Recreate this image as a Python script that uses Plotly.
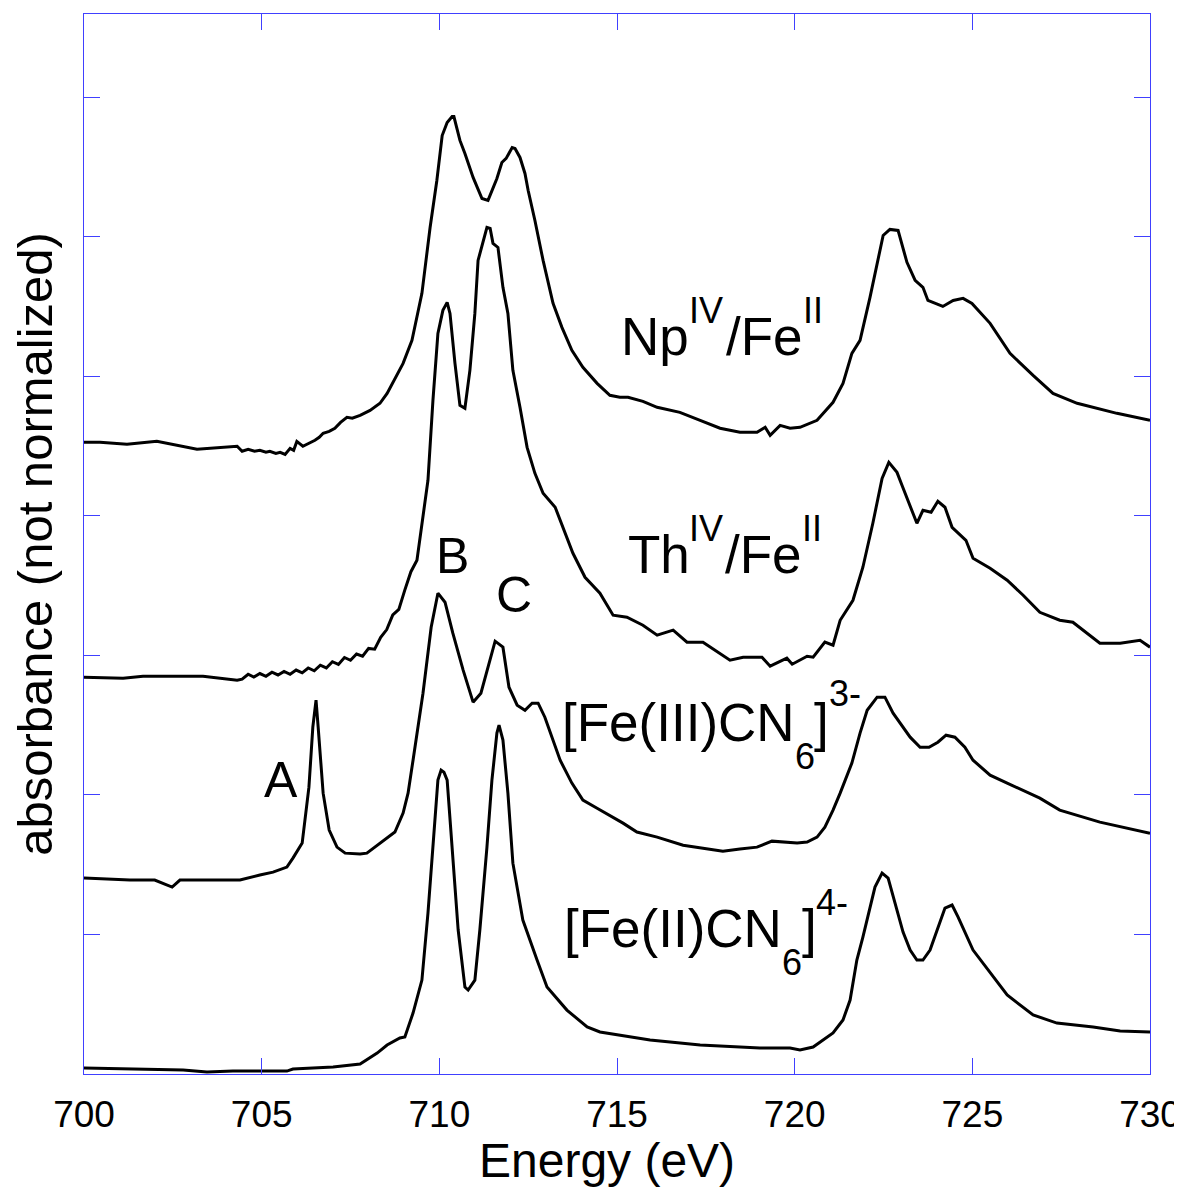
import plotly.graph_objects as go

# ---------------- data ----------------
x_ticks = [700, 705, 710, 715, 720, 725, 730]
y_ticks = [0, 1, 2, 3, 4, 5, 6, 7]

energy_np = [700.00, 700.45, 701.21, 702.05, 703.18, 704.31, 704.45, 704.62, 704.80, 704.95,
             705.12, 705.23, 705.40, 705.52, 705.66, 705.80, 705.90, 705.99, 706.16, 706.33,
             706.50, 706.62, 706.73, 706.90, 707.06, 707.22, 707.40, 707.55, 707.77, 708.05,
             708.33, 708.53, 708.81, 708.98, 709.23, 709.51, 709.74, 709.93, 710.08, 710.22,
             710.36, 710.41, 710.58, 710.72, 710.95, 711.20, 711.37, 711.62, 711.76, 711.88,
             712.05, 712.13, 712.27, 712.41, 712.50, 712.69, 712.92, 713.20, 713.45, 713.73,
             714.04, 714.44, 714.80, 715.08, 715.31, 715.73, 716.13, 716.77, 717.34, 717.90,
             718.46, 718.94, 719.17, 719.31, 719.59, 719.87, 720.15, 720.63, 721.08, 721.36,
             721.61, 721.84, 722.12, 722.32, 722.49, 722.68, 722.91, 723.16, 723.39, 723.61,
             723.75, 724.17, 724.46, 724.74, 724.99, 725.50, 726.06, 726.71, 727.27, 727.95,
             729.07, 730.00]
absorb_np = [4.527, 4.527, 4.513, 4.534, 4.477, 4.499, 4.463, 4.477, 4.463, 4.470,
             4.456, 4.463, 4.448, 4.456, 4.441, 4.484, 4.470, 4.534, 4.499, 4.520,
             4.542, 4.563, 4.592, 4.606, 4.628, 4.670, 4.706, 4.700, 4.721, 4.756,
             4.807, 4.878, 5.007, 5.093, 5.258, 5.595, 6.067, 6.404, 6.726, 6.819,
             6.862, 6.862, 6.691, 6.597, 6.426, 6.275, 6.261, 6.418, 6.533, 6.562,
             6.640, 6.633, 6.569, 6.454, 6.332, 6.117, 5.831, 5.523, 5.351, 5.186,
             5.065, 4.950, 4.864, 4.850, 4.850, 4.821, 4.778, 4.742, 4.685, 4.628,
             4.599, 4.599, 4.635, 4.577, 4.649, 4.628, 4.635, 4.685, 4.814, 4.950,
             5.165, 5.258, 5.566, 5.810, 6.010, 6.053, 6.046, 5.817, 5.688, 5.638,
             5.544, 5.501, 5.544, 5.559, 5.523, 5.380, 5.165, 5.007, 4.878, 4.807,
             4.735, 4.685]

energy_th = [700.00, 701.10, 701.66, 703.35, 704.31, 704.45, 704.62, 704.78, 704.95, 705.12,
             705.29, 705.46, 705.63, 705.80, 705.97, 706.14, 706.31, 706.48, 706.65, 706.82,
             706.99, 707.16, 707.33, 707.50, 707.67, 707.84, 708.01, 708.18, 708.35, 708.52,
             708.69, 708.86, 709.03, 709.20, 709.37, 709.68, 709.82, 709.96, 710.10, 710.22,
             710.30, 710.44, 710.58, 710.72, 710.86, 711.00, 711.09, 711.23, 711.34, 711.43,
             711.51, 711.65, 711.79, 711.93, 712.07, 712.27, 712.47, 712.69, 712.92, 713.26,
             713.54, 713.76, 714.10, 714.52, 714.89, 715.28, 715.73, 716.13, 716.58, 716.97,
             717.42, 718.18, 718.55, 719.08, 719.31, 719.78, 719.93, 720.35, 720.52, 720.85,
             721.08, 721.28, 721.64, 721.92, 722.20, 722.46, 722.65, 722.88, 723.02, 723.25,
             723.44, 723.61, 723.84, 724.03, 724.23, 724.43, 724.60, 724.82, 725.02, 725.50,
             725.98, 726.43, 726.90, 727.46, 727.83, 728.59, 729.16, 729.72, 730.00]
absorb_th = [2.844, 2.837, 2.851, 2.851, 2.822, 2.830, 2.865, 2.845, 2.870, 2.850,
             2.880, 2.860, 2.885, 2.865, 2.895, 2.875, 2.910, 2.890, 2.930, 2.910,
             2.955, 2.935, 2.985, 2.965, 3.010, 2.995, 3.050, 3.045, 3.130, 3.185,
             3.290, 3.330, 3.470, 3.600, 3.682, 4.255, 4.828, 5.308, 5.473, 5.530,
             5.451, 5.093, 4.792, 4.771, 5.043, 5.451, 5.831, 5.953, 6.067, 6.060,
             5.953, 5.924, 5.638, 5.451, 5.043, 4.778, 4.491, 4.305, 4.162, 4.062,
             3.875, 3.732, 3.560, 3.446, 3.288, 3.274, 3.216, 3.145, 3.181, 3.095,
             3.095, 2.966, 2.987, 2.987, 2.923, 2.980, 2.937, 2.994, 2.987, 3.095,
             3.073, 3.252, 3.395, 3.632, 3.947, 4.269, 4.384, 4.312, 4.219, 4.062,
             3.947, 4.040, 4.026, 4.105, 4.062, 3.918, 3.875, 3.825, 3.696, 3.625,
             3.539, 3.431, 3.309, 3.252, 3.238, 3.087, 3.087, 3.109, 3.059]

energy_fe3 = [700.00, 701.29, 701.99, 702.28, 702.48, 702.70, 703.26, 704.39, 704.95, 705.32,
              705.71, 705.88, 706.14, 706.22, 706.33, 706.44, 706.53, 706.59, 706.73, 706.90,
              707.12, 707.35, 707.77, 707.96, 708.27, 708.75, 708.98, 709.12, 709.26, 709.40,
              709.54, 709.77, 709.96, 710.16, 710.38, 710.67, 710.95, 711.17, 711.37, 711.57,
              711.79, 711.96, 712.19, 712.41, 712.61, 712.78, 712.97, 713.20, 713.40, 713.73,
              714.04, 714.44, 714.80, 715.17, 715.56, 716.13, 716.86, 717.42, 717.98, 718.46,
              718.94, 719.36, 719.67, 720.07, 720.35, 720.63, 720.85, 721.08, 721.28, 721.61,
              721.84, 722.04, 722.32, 722.54, 722.77, 723.25, 723.53, 723.78, 724.03, 724.26,
              724.51, 724.79, 725.02, 725.50, 725.98, 726.43, 726.90, 727.46, 728.59, 730.00]
absorb_fe3 = [1.404, 1.390, 1.390, 1.361, 1.340, 1.390, 1.390, 1.390, 1.426, 1.447,
              1.483, 1.547, 1.655, 1.819, 2.056, 2.486, 2.679, 2.486, 2.013, 1.748,
              1.626, 1.583, 1.576, 1.583, 1.640, 1.734, 1.870, 2.013, 2.249, 2.486,
              2.729, 3.202, 3.446, 3.381, 3.159, 2.894, 2.665, 2.729, 2.915, 3.102,
              3.059, 2.772, 2.643, 2.607, 2.658, 2.658, 2.557, 2.393, 2.249, 2.085,
              1.963, 1.905, 1.855, 1.798, 1.734, 1.698, 1.640, 1.619, 1.597, 1.612,
              1.626, 1.669, 1.662, 1.655, 1.662, 1.698, 1.769, 1.891, 2.013, 2.228,
              2.443, 2.607, 2.701, 2.701, 2.586, 2.414, 2.342, 2.342, 2.378, 2.428,
              2.414, 2.342, 2.249, 2.142, 2.085, 2.034, 1.977, 1.891, 1.805, 1.726]

energy_fe2 = [700.00, 701.10, 702.79, 703.46, 704.19, 705.71, 705.88, 707.01, 707.77, 708.25,
              708.53, 708.89, 709.03, 709.26, 709.51, 709.68, 709.82, 709.96, 710.05, 710.13,
              710.22, 710.36, 710.53, 710.72, 710.81, 711.00, 711.14, 711.34, 711.48, 711.62,
              711.68, 711.79, 711.93, 712.07, 712.35, 712.75, 713.03, 713.59, 714.16, 714.52,
              715.93, 717.34, 719.02, 719.87, 720.15, 720.52, 721.08, 721.36, 721.56, 721.75,
              721.92, 722.26, 722.46, 722.63, 722.82, 723.05, 723.25, 723.44, 723.61, 723.81,
              724.01, 724.23, 724.43, 724.60, 725.02, 725.41, 725.98, 726.71, 727.38, 728.40,
              729.16, 730.00]
absorb_fe2 = [0.043, 0.036, 0.029, 0.014, 0.021, 0.021, 0.036, 0.050, 0.072, 0.150,
              0.208, 0.258, 0.265, 0.437, 0.673, 1.153, 1.626, 2.106, 2.178, 2.163,
              2.106, 1.626, 1.032, 0.623, 0.602, 0.673, 1.032, 1.626, 2.106, 2.443,
              2.500, 2.393, 2.013, 1.511, 1.103, 0.817, 0.623, 0.458, 0.337, 0.301,
              0.244, 0.208, 0.186, 0.186, 0.172, 0.193, 0.294, 0.387, 0.530, 0.817,
              0.981, 1.340, 1.440, 1.404, 1.225, 1.017, 0.888, 0.817, 0.817, 0.888,
              1.032, 1.189, 1.211, 1.125, 0.888, 0.760, 0.566, 0.423, 0.365, 0.337,
              0.308, 0.301]

# ---------------- styling ----------------
AXIS_BLUE = "#4040ff"
FONT = "Arial, 'Liberation Sans', sans-serif"
MAIN = 53   # label font size
SMALL = 36  # super/subscript font size

fig = go.Figure()
for ex, ab in [(energy_np, absorb_np), (energy_th, absorb_th),
               (energy_fe3, absorb_fe3), (energy_fe2, absorb_fe2)]:
    fig.add_trace(go.Scatter(x=ex, y=ab, mode="lines",
                             line=dict(color="black", width=3),
                             showlegend=False, hoverinfo="skip"))

# label pieces: (text, x, y, size)
pieces = [
    ("Np", 715.11, 5.283, MAIN), ("IV", 717.04, 5.473, SMALL),
    ("/Fe", 718.07, 5.283, MAIN), ("II", 720.23, 5.473, SMALL),
    ("Th", 715.31, 3.725, MAIN), ("IV", 717.03, 3.908, SMALL),
    ("/Fe", 718.04, 3.725, MAIN), ("II", 720.21, 3.908, SMALL),
    ("[Fe(III)CN", 713.44, 2.521, MAIN), ("6", 720.01, 2.278, SMALL),
    ("]", 720.55, 2.521, MAIN), ("3-", 720.98, 2.730, SMALL),
    ("[Fe(II)CN", 713.50, 1.046, MAIN), ("6", 719.63, 0.802, SMALL),
    ("]", 720.20, 1.046, MAIN), ("4-", 720.61, 1.232, SMALL),
]
for txt, xx, yy, sz in pieces:
    fig.add_annotation(x=xx, y=yy, xref="x", yref="y", text=txt, showarrow=False,
                       xanchor="left", yanchor="middle", borderpad=0, borderwidth=0,
                       font=dict(family=FONT, size=sz, color="black"))

for txt, xx, yy in [("A", 705.54, 2.106), ("B", 710.36, 3.715), ("C", 712.10, 3.430)]:
    fig.add_annotation(x=xx, y=yy, xref="x", yref="y", text=txt, showarrow=False,
                       xanchor="center", yanchor="middle", borderpad=0, borderwidth=0,
                       font=dict(family=FONT, size=50, color="black"))

# x-axis title (placed as paper annotation, slightly left of centre as in the reference)
fig.add_annotation(x=0.491, y=-0.0815, xref="paper", yref="paper", text="Energy (eV)",
                   showarrow=False, xanchor="center", yanchor="middle",
                   borderpad=0, borderwidth=0,
                   font=dict(family=FONT, size=48, color="black"))

# page body has an 8px default margin, so the figure is offset by 8px
fig.update_layout(
    width=1174, height=1179,
    margin=dict(l=76, r=32, t=6, b=113),
    paper_bgcolor="white", plot_bgcolor="white",
    showlegend=False,
    font=dict(family=FONT, color="black"),
)
fig.update_xaxes(
    range=[700, 730], tickvals=x_ticks, ticktext=[str(t) for t in x_ticks],
    ticks="inside", ticklen=16, tickwidth=1, tickcolor=AXIS_BLUE,
    showline=True, linecolor=AXIS_BLUE, linewidth=1, mirror="ticks",
    showgrid=False, zeroline=False, automargin=False, ticklabelstandoff=8,
    tickfont=dict(family=FONT, size=37, color="black"),
)
fig.update_yaxes(
    range=[0, 7.597], tickvals=y_ticks, showticklabels=False,
    ticks="inside", ticklen=16, tickwidth=1, tickcolor=AXIS_BLUE,
    showline=True, linecolor=AXIS_BLUE, linewidth=1, mirror="ticks",
    showgrid=False, zeroline=False, automargin=False,
    title=dict(text="absorbance (not normalized)", font=dict(family=FONT, size=49, color="black"), standoff=17),
)

fig.write_html("out.html")
